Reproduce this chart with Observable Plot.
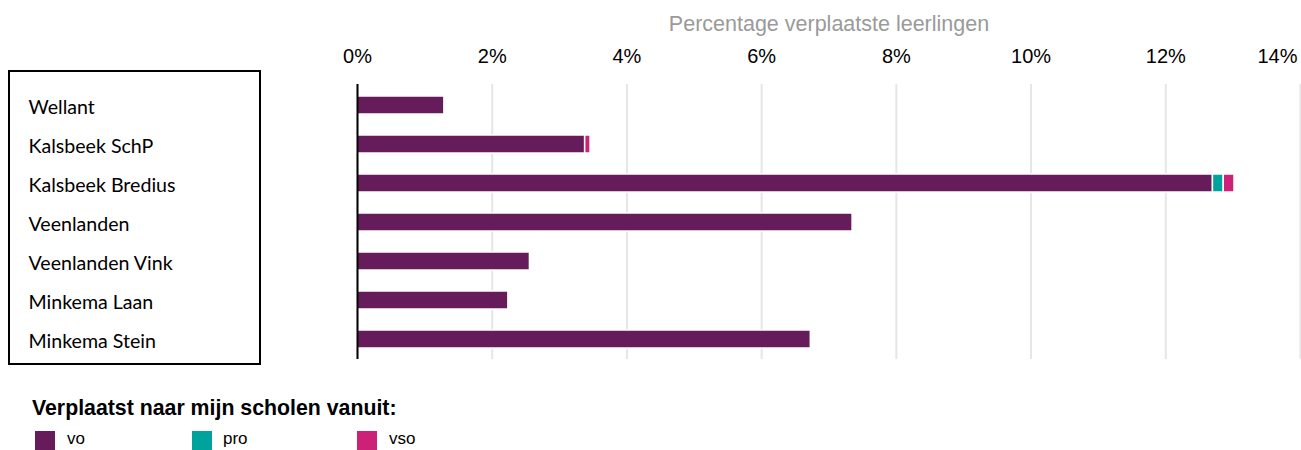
<!DOCTYPE html>
<html>
<head>
<meta charset="utf-8">
<script src="https://cdn.jsdelivr.net/npm/d3@7"></script>
<script src="https://cdn.jsdelivr.net/npm/@observablehq/plot@0.6"></script>
<style>
  html, body { margin: 0; padding: 0; background: white; }
  #wrap { position: relative; width: 1301px; height: 450px; overflow: hidden; }
  #chart { position: absolute; left: 0; top: 0; }
  #box { position: absolute; left: 8px; top: 70px; width: 253px; height: 295px; border: 2px solid #000; box-sizing: border-box; }
  #legtitle { position: absolute; left: 32px; top: 396px; font: bold 21.3px "Liberation Sans", Arial, sans-serif; color: #000; white-space: nowrap; }
  .sw { position: absolute; top: 431px; width: 20px; height: 19px; }
  .lab { position: absolute; top: 429px; font: 17px/19px "Liberation Sans", Arial, sans-serif; color: #000; }
</style>
</head>
<body>
<div id="wrap">
  <div id="chart"></div>
  <div id="box"></div>
  <div id="legtitle"></div>
  <div id="legend"></div>
</div>
<script>
const categories = ["Wellant", "Kalsbeek SchP", "Kalsbeek Bredius", "Veenlanden", "Veenlanden Vink", "Minkema Laan", "Minkema Stein"];
const series = ["vo", "pro", "vso"];
const voValues  = [1.29, 3.38, 12.70, 7.35, 2.56, 2.24, 6.73];
const proValues = [0, 0, 0.16, 0, 0, 0, 0];
const vsoValues = [0, 0.08, 0.16, 0, 0, 0, 0];
const xTicks = [0, 2, 4, 6, 8, 10, 12, 14];
const colors = ["#661c5b", "#00a39b", "#cd2178"];
const axisTitle = "Percentage verplaatste leerlingen";
const legendTitle = "Verplaatst naar mijn scholen vanuit:";

const seriesValues = [voValues, proValues, vsoValues];
const rows = [];
categories.forEach((c, i) => {
  series.forEach((s, j) => {
    const v = seriesValues[j][i];
    if (v > 0) rows.push({school: c, type: s, value: v});
  });
});

const tickFont = "Liberation Sans, Arial, sans-serif";
const lastTick = xTicks[xTicks.length - 1];

const chart = Plot.plot({
  width: 1301,
  height: 370,
  marginLeft: 357,
  marginRight: 1,
  marginTop: 84,
  marginBottom: 11,
  style: {background: "transparent"},
  x: {domain: [0, 14], ticks: xTicks},
  y: {domain: categories, paddingInner: 0.54, paddingOuter: 0.27},
  color: {domain: series, range: colors},
  marks: [
    Plot.gridX(xTicks, {stroke: "#e6e6e6", strokeOpacity: 1, strokeWidth: 2}),
    Plot.barX(rows, Plot.stackX({x: "value", y: "school", fill: "type", order: series, stroke: "white", strokeWidth: 1.5})),
    Plot.ruleX([0], {stroke: "#000", strokeWidth: 2}),
    Plot.axisX({anchor: "top", ticks: xTicks.slice(0, -1), tickSize: 0, tickPadding: 22, tickFormat: d => d + "%", fontSize: 20, fontFamily: tickFont, fill: "#000", label: null}),
    Plot.axisX({anchor: "top", ticks: [lastTick], tickSize: 0, tickPadding: 22, tickFormat: d => d + "%", textAnchor: "end", dx: -3, fontSize: 20, fontFamily: tickFont, fill: "#000", label: null}),
    Plot.axisY({anchor: "left", tickSize: 0, tickPadding: 3, textAnchor: "start", dx: -326, dy: 2.5, fontSize: 19.6, fontFamily: "Lato, sans-serif", fill: "#000", label: null}),
    Plot.text([axisTitle], {frameAnchor: "top", dy: -60, lineAnchor: "middle", fontSize: 21.5, fontFamily: tickFont, fill: "#9a9a9a"})
  ]
});
document.getElementById("chart").appendChild(chart);

document.getElementById("legtitle").textContent = legendTitle;
const legend = document.getElementById("legend");
const swX = [35, 192, 357];
const labX = [67, 223, 389];
series.forEach((s, i) => {
  const sw = document.createElement("div");
  sw.className = "sw";
  sw.style.left = swX[i] + "px";
  sw.style.background = colors[i];
  legend.appendChild(sw);
  const lb = document.createElement("div");
  lb.className = "lab";
  lb.style.left = labX[i] + "px";
  lb.textContent = s;
  legend.appendChild(lb);
});
</script>
</body>
</html>
